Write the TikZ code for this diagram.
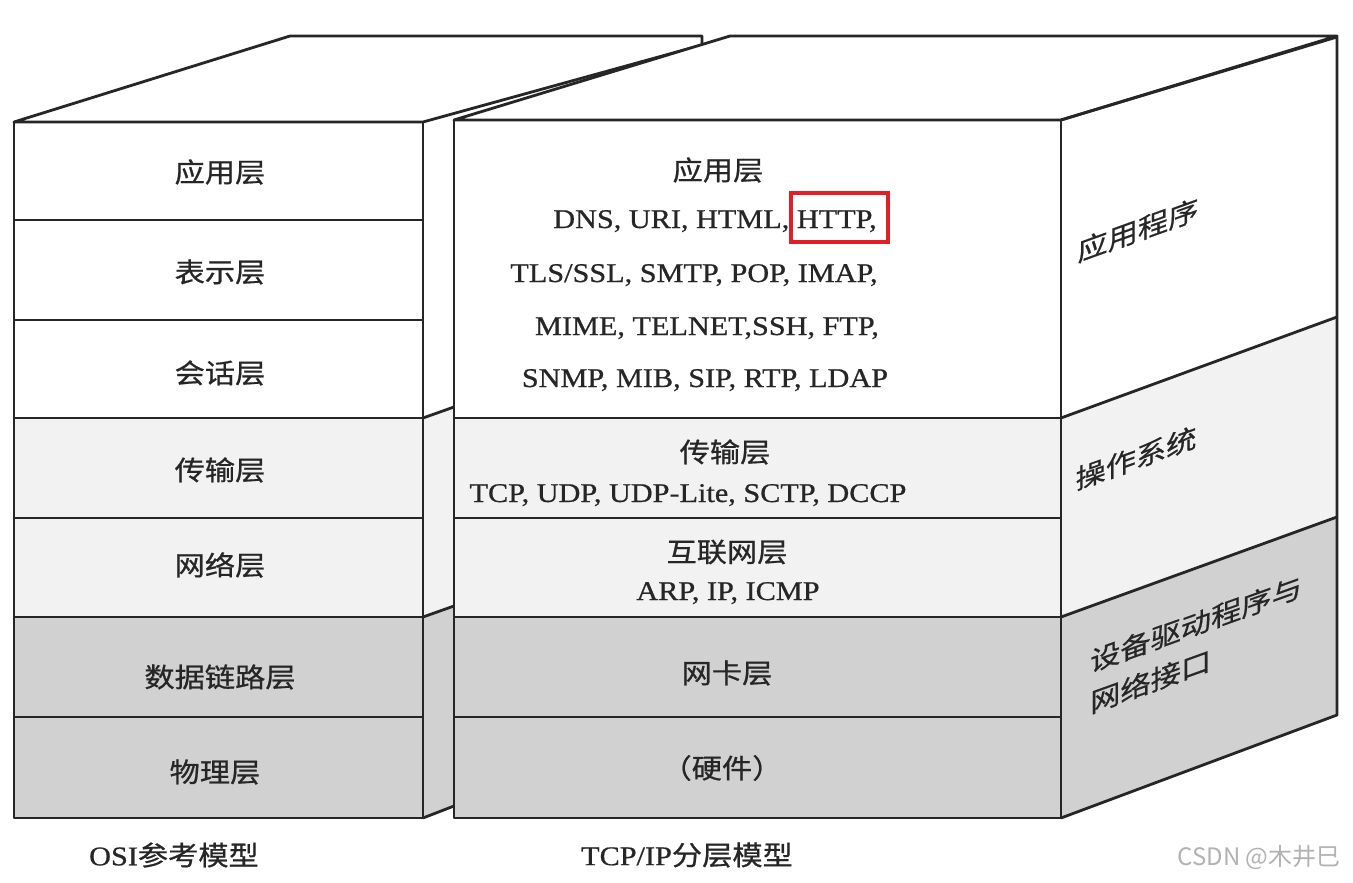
\documentclass[tikz,border=0pt]{standalone}
\usepackage{fontspec}
\setmainfont[FakeStretch=1.12, FakeBold=0.7]{Liberation Serif}
\newfontfamily\cjk[FakeStretch=1.12, FakeBold=0.7]{Noto Sans CJK SC}
\newfontfamily\wmfont{Noto Sans CJK SC}
\definecolor{lgray}{gray}{0.95}
\definecolor{dgray}{gray}{0.82}
\definecolor{inkc}{gray}{0.15}
\definecolor{hired}{RGB}{226,30,38}
\tikzset{
  edge/.style={draw=inkc, line width=2.8pt, line join=round},
  zh/.style={font=\fontsize{27}{32}\selectfont\cjk, text=inkc, inner sep=0pt},
  lat/.style={font=\fontsize{27}{32}\selectfont, text=inkc, inner sep=0pt, anchor=base},
  side/.style={font=\fontsize{27}{32}\selectfont\cjk, text=inkc, inner sep=0pt, transform shape},
}
\begin{document}
\begin{tikzpicture}[x=1pt,y=-1pt]
\useasboundingbox (0,0) rectangle (1353,883);
\fill[white] (0,0) rectangle (1353,883);

% ---------- fills ----------
% left block front
\fill[white] (14,122) rectangle (423,418);
\fill[lgray] (14,418) rectangle (423,617);
\fill[dgray] (14,617) rectangle (423,818);
% left block side strip visible in the gap
\fill[white] (423,122) -- (454,112) -- (454,407) -- (423,418) -- cycle;
\fill[lgray] (423,418) -- (454,407) -- (454,606) -- (423,617) -- cycle;
\fill[dgray] (423,617) -- (454,606) -- (454,806) -- (423,818) -- cycle;
% right block front
\fill[white] (454,120) rectangle (1061,418);
\fill[lgray] (454,418) rectangle (1061,617);
\fill[dgray] (454,617) rectangle (1061,818);
% right block side face
\fill[white] (1061,120) -- (1337,37) -- (1337,317) -- (1061,418) -- cycle;
\fill[lgray] (1061,418) -- (1337,317) -- (1337,517) -- (1061,617) -- cycle;
\fill[dgray] (1061,617) -- (1337,517) -- (1337,715) -- (1061,818) -- cycle;

% ---------- left block (OSI) lines ----------
\foreach \yy in {220,320,418,518,617,717}
  \draw[edge] (14,\yy) -- (423,\yy);
\draw[edge] (14,122) rectangle (423,818);
\draw[edge, fill=white] (14,122) -- (290,36) -- (702,36) -- (702,45) -- (423,122) -- cycle;
\draw[edge] (423,418) -- (454,407);
\draw[edge] (423,617) -- (454,606);
\draw[edge] (423,818) -- (454,806);

% ---------- right block (TCP/IP) lines ----------
\foreach \yy in {418,518,617,717}
  \draw[edge] (454,\yy) -- (1061,\yy);
\draw[edge] (454,120) rectangle (1061,818);
\draw[edge, fill=white] (454,120) -- (730,36) -- (1337,36) -- (1061,120) -- cycle;
\draw[edge] (1061,418) -- (1337,317);
\draw[edge] (1061,617) -- (1337,517);
\draw[edge] (1061,120) -- (1337,37) -- (1337,715) -- (1061,818);

% ---------- OSI labels ----------
\node[zh] (osi7) at (220,172) {应用层};
\node[zh] (osi6) at (220,272) {表示层};
\node[zh] (osi5) at (220,373) {会话层};
\node[zh] (osi4) at (220,470) {传输层};
\node[zh] (osi3) at (220,565) {网络层};
\node[zh] (osi2) at (220,677) {数据链路层};
\node[zh] (osi1) at (215,772) {物理层};

% ---------- TCP/IP labels ----------
\node[zh] (tapp) at (718,170) {应用层};
\node[lat] (tl1) at (715,228) {DNS, URI, HTML, HTTP,};
\node[lat] (tl2) at (694,282) {TLS/SSL, SMTP, POP, IMAP,};
\node[lat] (tl3) at (707,335) {MIME, TELNET,SSH, FTP,};
\node[lat] (tl4) at (705,387) {SNMP, MIB, SIP, RTP, LDAP};
\node[zh] (ttr) at (725,452) {传输层};
\node[lat] (ttrp) at (688,502) {TCP, UDP, UDP-Lite, SCTP, DCCP};
\node[zh] (tnet) at (727,552) {互联网层};
\node[lat] (tnetp) at (728,600) {ARP, IP, ICMP};
\node[zh] (tnic) at (727,673) {网卡层};
\node[zh] (thw) at (722,768) {（硬件）};

% highlight
\draw[hired, line width=3.5pt] (791,193) rectangle (888,242);

% ---------- side labels ----------
\begin{scope}[shift={(1138,230)}, yslant=0.36]
  \node[side] (sapp) at (0,0) {应用程序};
\end{scope}
\begin{scope}[shift={(1136,458)}, yslant=0.36]
  \node[side] (sos) at (0,0) {操作系统};
\end{scope}
\begin{scope}[shift={(1090,662)}, yslant=0.36]
  \node[side, anchor=west] (sdrv1) at (0,0) {设备驱动程序与};
  \node[side, anchor=west] (sdrv2) at (0,41) {网络接口};
\end{scope}

% ---------- captions ----------
\node[inner sep=0pt, text=inkc, font=\fontsize{27}{32}\selectfont] (capo) at (174,855) {OSI{\cjk 参考模型}};
\node[inner sep=0pt, text=inkc, font=\fontsize{27}{32}\selectfont] (capt) at (687,855) {TCP/IP{\cjk 分层模型}};
\node[inner sep=0pt, text=gray!60, font=\fontsize{24}{28}\selectfont\wmfont] (wm) at (1259,858) {CSDN @木井巳};
\end{tikzpicture}
\end{document}
